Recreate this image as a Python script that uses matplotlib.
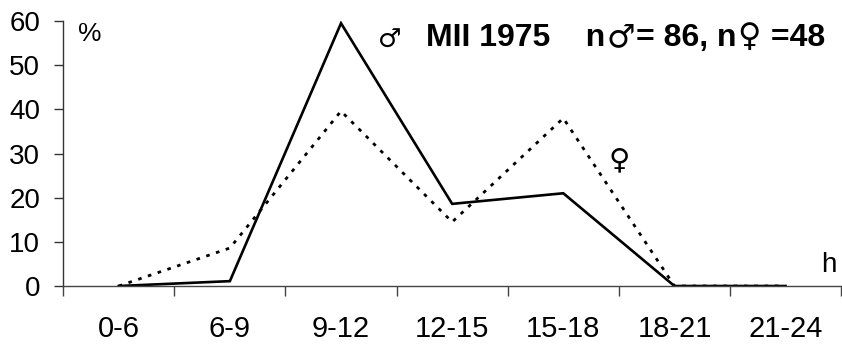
import matplotlib
matplotlib.use("Agg")
import matplotlib.pyplot as plt
from matplotlib import font_manager

# Activity by time of day, MII 1975
hours = ["0-6", "6-9", "9-12", "12-15", "15-18", "18-21", "21-24"]
males = [0, 1.1, 59.5, 18.6, 21.0, 0, 0]
females = [0, 8.6, 39.6, 14.5, 38.0, 0, 0]

plt.rcParams["font.family"] = ["Liberation Sans", "DejaVu Sans"]

names = {f.name for f in font_manager.fontManager.ttflist}
narrow = "Liberation Sans Narrow" if "Liberation Sans Narrow" in names else "Liberation Sans"
sym = ["DejaVu Sans"]

fig = plt.figure(figsize=(8.42, 3.45), dpi=100)
ax = fig.add_axes([0.075, 0.171, 0.924, 0.768])

x = list(range(len(hours)))
ax.plot(x, females, color="black", lw=2.0, linestyle=(0, (1.3, 2.4)))
ax.plot(x, males, color="black", lw=1.9, solid_joinstyle="miter")

ax.set_xlim(-0.5, len(hours) - 0.5)
ax.set_ylim(0, 60)

for s in ("top", "right"):
    ax.spines[s].set_visible(False)
ax.spines["left"].set_linewidth(1.0)
ax.spines["bottom"].set_linewidth(1.0)
ax.spines["left"].set_color("#333333")
ax.spines["bottom"].set_color("#444444")

# group boundaries as ticks, names centred between them
ax.set_xticks([i - 0.5 for i in range(len(hours) + 1)])
ax.set_xticklabels([])
ax.set_xticks(x, minor=True)
ax.set_xticklabels(hours, minor=True, fontsize=21, family=narrow)
ax.tick_params(axis="x", which="major", direction="out", length=7, width=1.0,
               color="#444444")
ax.tick_params(axis="x", which="minor", length=0, pad=21)

ax.set_yticks(range(0, 61, 10))
ax.tick_params(axis="y", direction="out", length=6.5, width=1.0, labelsize=20,
               pad=10, color="#333333")

ax.text(-0.26, 57, "%", fontsize=19, va="center", ha="center")
ax.text(6.39, 4.8, "h", fontsize=20, ha="center", va="center")
ax.text(2.44, 55.5, "\u2642", fontsize=19, ha="center", va="center", family=sym)
ax.text(4.5, 28.5, "\u2640", fontsize=21, ha="center", va="center", family=sym)

# title, bold text with regular-weight sex symbols, laid out on one baseline
parts = [("MII 1975    n", "bold", None), ("\u2642", "normal", sym),
         ("= 86, n", "bold", None), ("\u2640", "normal", sym), (" =48", "bold", None)]
renderer = fig.canvas.get_renderer()
xpos = 426
base = 1 - 46 / 345
for s, w, fam in parts:
    kw = dict(fontsize=23, fontweight=w, va="baseline", ha="left")
    if fam:
        kw["family"] = fam
    t = fig.text(xpos / 842, base, s, **kw)
    xpos = t.get_window_extent(renderer).x1 + 1

fig.savefig("out.png", dpi=100)
